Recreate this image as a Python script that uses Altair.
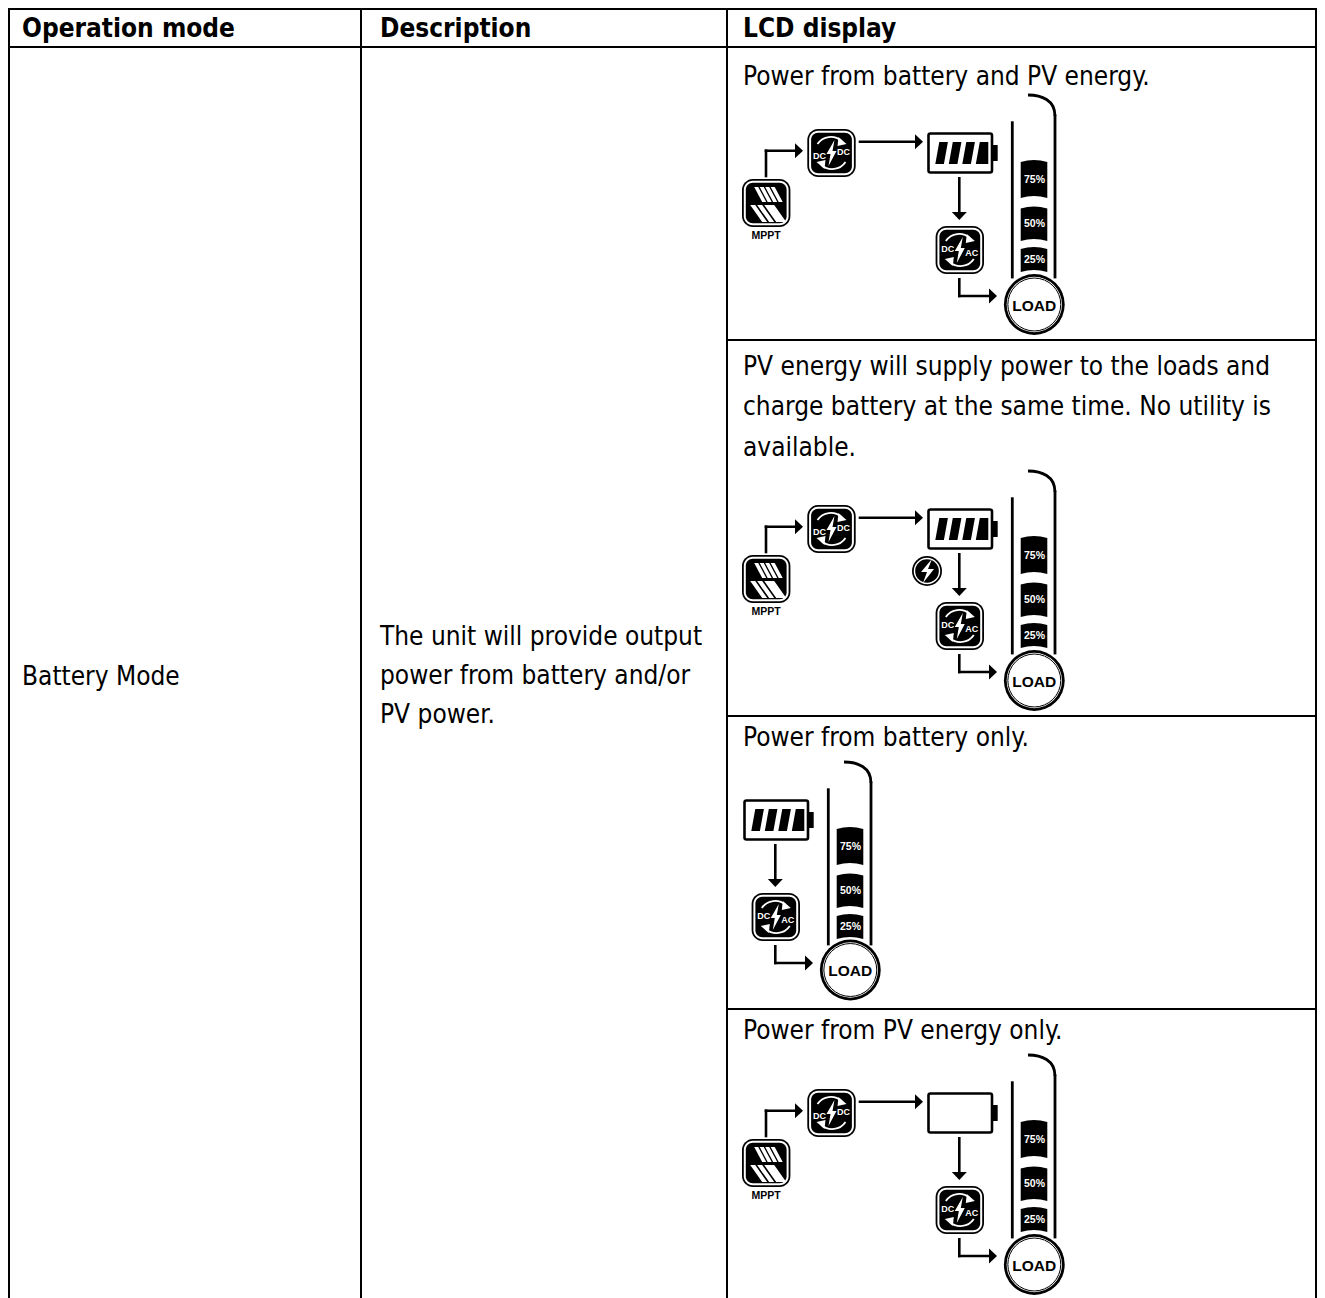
import altair as alt
import pandas as pd

FONT = "DejaVu Sans Condensed"
ICON_FONT = "Liberation Sans"
TEXT_SIZE = 26

# ---- table content ----
HEADERS = ["Operation mode", "Description", "LCD display"]
COL_TEXT_X = [22, 380, 743]
HEADER_Y = 29
MODE = "Battery Mode"
MODE_Y = 677
DESC_LINES = ["The unit will provide output", "power from battery and/or", "PV power."]
DESC_Y = [637, 676, 715]
LCD_LINES = ["Power from battery and PV energy.",
             "PV energy will supply power to the loads and",
             "charge battery at the same time. No utility is",
             "available.",
             "Power from battery only.",
             "Power from PV energy only."]
LCD_Y = [77, 367, 407, 448, 738, 1031]

# table rules
H_RULES = [(9, 8, 1317), (47, 8, 1317), (340, 727, 1317), (716, 727, 1317), (1009, 727, 1317)]
V_RULES = [(9, 8, 1298), (361, 8, 1298), (727, 8, 1298), (1316, 8, 1298)]

# ---- LCD panels: dx, dy, solar+dcdc?, battery bars?, charge bolt?, load shift ----
PANELS = [(0, 0, True, True, False, 0),
          (0, 376, True, True, True, 0),
          (-184, 667, False, True, False, -1.5),
          (0, 960, True, False, False, 0)]

LOAD = (1034.3, 304.5)
GAUGE_L, GAUGE_R = 1012.3, 1055
GAUGE_TOP_L, GAUGE_BOT = 122.7, 277
SEGS = [("75%", 160, 197), ("50%", 206.5, 240), ("25%", 247, 271)]


def para(x0, x1, y0, y1, skew):
    return (f"M{x0},{y1}L{x1},{y1}L{x1 + skew},{y0}L{x0 + skew},{y0}Z")


def seg_path(h):
    return f"M-13.3,{-h / 2 + 2}Q0,{-h / 2 - 2} 13.3,{-h / 2 + 2}L13.3,{h / 2 + 1}Q0,{h / 2 - 3} -13.3,{h / 2 + 1}Z"


ARROW_R = "M-8,-7.5L0,0L-8,7.5Z"
ARROW_D = "M-7.5,-8L0,0L7.5,-8Z"
BOLT = "M3,-13L-5,1L-1,1L-3,13L5,-2L1,-2Z"
ARC_TOP = "M-14,-9A16,16 0 0 1 10,-12"
ARC_BOT = "M14,9A16,16 0 0 1 -10,12"
TIP_TOP = "M7,-16L15,-9L6,-7Z"
TIP_BOT = "M-7,16L-15,9L-6,7Z"
SOLAR = "".join(
    [para(x, x + 4, -16, -1, -8) for x in (-4, 1.5, 7, 12.5)]
    + [para(x, x + 5, 2, 19, -12) for x in (-4, 3, 10, 15)]
)
BARS = "".join(para(x, x + 8.6, -11, 11, 4) for x in (-25, -11.5, 2)) + "M15.5,11L28,11L28,-11L19.5,-11Z"
BOLT_CIRCLE = "M5,-12L-6,1L0,1L-4,12L7,-2L1,-2Z"
GAUGE_CURVE = "M-13.5,-13C0,-13 13.5,-8 13.5,8"

rings = {11: [], 9: [], 7: [], 2: [], 0: []}
rules, glyphs, labels, circles = [], [], [], []


def icon(cx, cy):
    rings[11].append(dict(x=cx - 24.2, x2=cx + 24.2, y=cy - 24, y2=cy + 24, c="#000"))
    rings[9].append(dict(x=cx - 22.4, x2=cx + 22.4, y=cy - 22.2, y2=cy + 22.2, c="#fff"))
    rings[7].append(dict(x=cx - 20.4, x2=cx + 20.4, y=cy - 20.2, y2=cy + 20.2, c="#000"))


def line(points, w=2.6):
    for (a, b), (c, d) in zip(points, points[1:]):
        rules.append(dict(x=a, x2=c, y=b, y2=d, w=w))


def glyph(path, x, y, fill="#000", stroke="none", w=0):
    glyphs.append(dict(x=x, y=y, path=path, fill=fill, stroke=stroke, w=w))


def converter(cx, cy, left, right, ldy, rdy):
    icon(cx, cy)
    glyph(ARC_TOP, cx, cy, "none", "#fff", 1.8)
    glyph(ARC_BOT, cx, cy, "none", "#fff", 1.8)
    glyph(TIP_TOP, cx, cy, "#fff")
    glyph(TIP_BOT, cx, cy, "#fff")
    glyph(BOLT, cx, cy, "#fff")
    labels.append(dict(x=cx - 12, y=cy + ldy, t=left, c="#fff", s=9))
    labels.append(dict(x=cx + 12, y=cy + rdy, t=right, c="#fff", s=9))


for dx, dy, solar, bars, bolt, load_shift in PANELS:
    if solar:
        icon(766.2 + dx, 203 + dy)
        glyph(SOLAR, 766.2 + dx, 203 + dy, "#fff")
        labels.append(dict(x=766 + dx, y=236 + dy, t="MPPT", c="#000", s=10.5))
        line([(766 + dx, 176 + dy), (766 + dx, 150.7 + dy), (796 + dx, 150.7 + dy)])
        glyph(ARROW_R, 803 + dx, 150.7 + dy)
        converter(831.5 + dx, 153 + dy, "DC", "DC", 2.5, -1.5)
        line([(860 + dx, 141.7 + dy), (916 + dx, 141.7 + dy)])
        glyph(ARROW_R, 923 + dx, 141.7 + dy)
    # battery
    rings[2].append(dict(x=928.5 + dx, x2=992 + dx, y=133.5 + dy, y2=172.5 + dy, c="#fff", s="#000"))
    rings[0].append(dict(x=991 + dx, x2=997.7 + dx, y=145 + dy, y2=161 + dy, c="#000"))
    if bars:
        glyph(BARS, 960.3 + dx, 153 + dy)
    if bolt:
        circles.append(dict(x=927 + dx, y=195 + dy, size=900, c="#000", s="#000", w=0))
        circles.append(dict(x=927 + dx, y=195 + dy, size=700, c="#fff", s="#fff", w=0))
        circles.append(dict(x=927 + dx, y=195 + dy, size=560, c="#000", s="#000", w=0))
        glyph(BOLT_CIRCLE, 927 + dx, 195 + dy, "#fff")
    # down arrow and converter
    line([(959.3 + dx, 178.3 + dy), (959.3 + dx, 212 + dy)])
    glyph(ARROW_D, 959.3 + dx, 220 + dy)
    converter(959.8 + dx, 250 + dy, "DC", "AC", -1.5, 3)
    line([(959.3 + dx, 279.3 + dy), (959.3 + dx, 296 + dy), (990 + dx, 296 + dy)])
    glyph(ARROW_R, 997 + dx, 296 + dy)
    # gauge
    line([(GAUGE_L + dx, GAUGE_TOP_L + dy), (GAUGE_L + dx, GAUGE_BOT + dy)], 2.8)
    line([(GAUGE_R + dx, 116 + dy), (GAUGE_R + dx, GAUGE_BOT + dy)], 2.8)
    glyph(GAUGE_CURVE, 1041.5 + dx, 108 + dy, "none", "#000", 2.8)
    for t, top, bot in SEGS:
        glyph(seg_path(bot - top), 1034 + dx, (top + bot) / 2 + dy)
        labels.append(dict(x=1034.5 + dx, y=(top + bot) / 2 + dy + 1, t=t, c="#fff", s=10.5))
    # load
    ly = LOAD[1] + dy + load_shift
    circles.append(dict(x=LOAD[0] + dx, y=ly, size=3700, c="#000", s="#000", w=0))
    circles.append(dict(x=LOAD[0] + dx, y=ly, size=3060, c="#fff", s="#fff", w=0))
    circles.append(dict(x=LOAD[0] + dx, y=ly, size=2800, c="#fff", s="#000", w=1))
    labels.append(dict(x=LOAD[0] + dx, y=ly + 1, t="LOAD", c="#000", s=15.5))

X = alt.X("x:Q", scale=alt.Scale(domain=[8, 1317], nice=False, zero=False), axis=None)
Y = alt.Y("y:Q", scale=alt.Scale(domain=[8, 1298], reverse=True, nice=False, zero=False), axis=None)

layers = []

# table rules
hr = pd.DataFrame([dict(y=a, x=b, x2=c) for a, b, c in H_RULES])
vr = pd.DataFrame([dict(x=a, y=b, y2=c) for a, b, c in V_RULES])
layers.append(alt.Chart(hr).mark_rule(color="#000", strokeWidth=2).encode(x=X, x2="x2:Q", y=Y))
layers.append(alt.Chart(vr).mark_rule(color="#000", strokeWidth=2).encode(x=X, y=Y, y2="y2:Q"))

# table text
tx = []
for h, x in zip(HEADERS, COL_TEXT_X):
    tx.append(dict(x=x, y=HEADER_Y, t=h, b="bold"))
tx.append(dict(x=COL_TEXT_X[0], y=MODE_Y, t=MODE, b="normal"))
tx += [dict(x=COL_TEXT_X[1], y=y, t=t, b="normal") for t, y in zip(DESC_LINES, DESC_Y)]
tx += [dict(x=COL_TEXT_X[2], y=y, t=t, b="normal") for t, y in zip(LCD_LINES, LCD_Y)]
for weight in ("bold", "normal"):
    d = pd.DataFrame([r for r in tx if r["b"] == weight])
    layers.append(alt.Chart(d).mark_text(align="left", baseline="middle", font=FONT, fontSize=TEXT_SIZE,
                                         fontWeight=weight, color="#000").encode(x=X, y=Y, text="t:N"))

# rules of the icons
ri = pd.DataFrame(rules)
for w in sorted(set(ri["w"])):
    layers.append(alt.Chart(ri[ri["w"] == w]).mark_rule(color="#000", strokeWidth=w, strokeCap="square")
                  .encode(x=X, x2="x2:Q", y=Y, y2="y2:Q"))

# rounded boxes
for radius in (11, 9, 7, 2, 0):
    d = pd.DataFrame(rings[radius])
    kw = dict(cornerRadius=radius) if radius else {}
    if radius == 2:
        layers.append(alt.Chart(d).mark_rect(fill="#fff", stroke="#000", strokeWidth=2.6, **kw)
                      .encode(x=X, x2="x2:Q", y=Y, y2="y2:Q"))
    else:
        layers.append(alt.Chart(d).mark_rect(**kw)
                      .encode(x=X, x2="x2:Q", y=Y, y2="y2:Q", color=alt.Color("c:N", scale=None)))

# circles, painted outermost first
cd = pd.DataFrame(circles)
for size in (900, 700, 560, 3700, 3060, 2800):
    d = cd[cd["size"] == size]
    first = d.iloc[0]
    layers.append(alt.Chart(d).mark_point(shape="circle", filled=True, opacity=1, size=size, fill=first["c"],
                                          stroke=first["s"], strokeWidth=float(first["w"]))
                  .encode(x=X, y=Y))

# glyphs (custom shapes: size=4 draws the path at 1:1)
gd = pd.DataFrame(glyphs)
for (path, fill, stroke, w), d in gd.groupby(["path", "fill", "stroke", "w"], sort=False):
    kw = dict(stroke=stroke, strokeWidth=w) if w else dict(strokeWidth=0)
    if fill == "none":
        layers.append(alt.Chart(d).mark_point(shape=path, size=4, filled=False, opacity=1, **kw).encode(x=X, y=Y))
    else:
        layers.append(alt.Chart(d).mark_point(shape=path, size=4, filled=True, opacity=1, fill=fill, **kw).encode(x=X, y=Y))

# icon labels
ld = pd.DataFrame(labels)
layers.append(alt.Chart(ld).mark_text(align="center", baseline="middle", font=ICON_FONT, fontWeight="bold")
              .encode(x=X, y=Y, text="t:N", color=alt.Color("c:N", scale=None),
                      size=alt.Size("s:Q", scale=None)))

chart = alt.layer(*layers).properties(
    width=1309, height=1290, padding=0, autosize=alt.AutoSizeParams(type="none")
).configure_view(stroke=None)

chart.save("out.html", embed_options={"renderer": "svg", "actions": False})
